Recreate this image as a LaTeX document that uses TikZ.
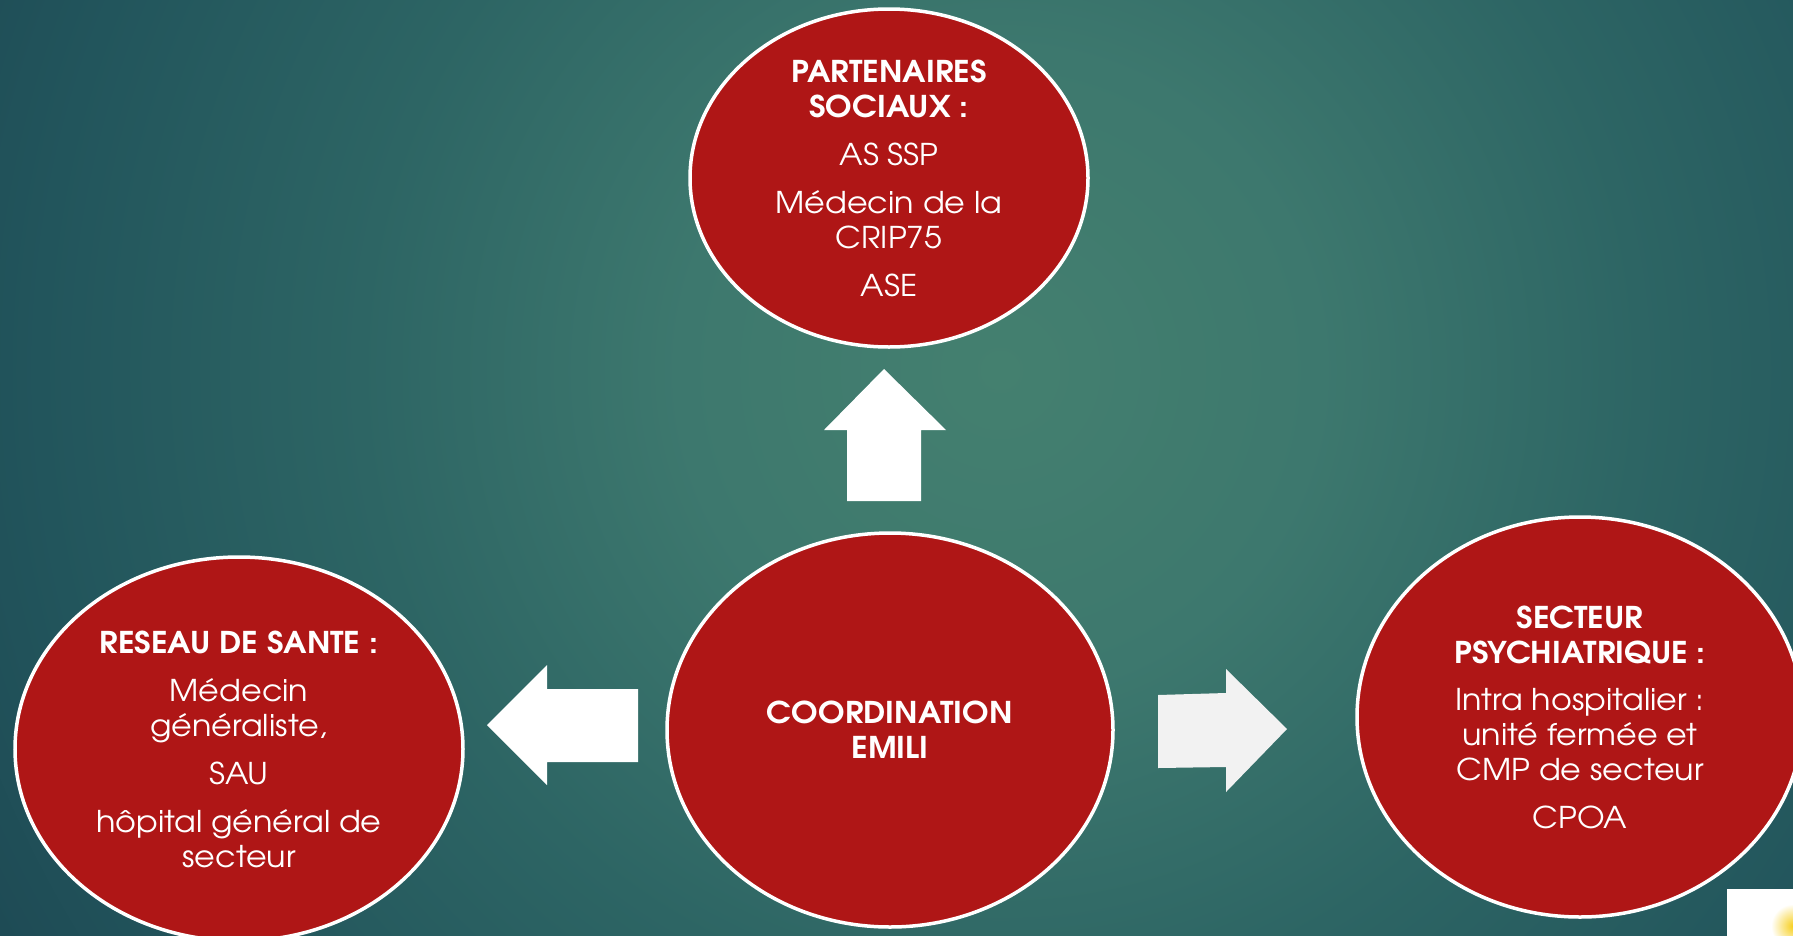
\documentclass[tikz,border=0pt]{standalone}
\usepackage{fontspec}
\setmainfont{TeX Gyre Adventor}[FakeStretch=1.06]
\usetikzlibrary{shapes.geometric}
\definecolor{bubblered}{HTML}{AF1616}
\definecolor{glowA}{HTML}{44806F}
\definecolor{glowB}{HTML}{3D786E}
\definecolor{glowC}{HTML}{2D6564}
\definecolor{glowD}{HTML}{22555C}
\definecolor{glowE}{HTML}{1D4853}
\definecolor{palearrow}{HTML}{F2F2F2}
\definecolor{sunyellow}{HTML}{F7CF1E}
% teal background glow, light in the upper middle, darker towards the edges
% (the path's half-width corresponds to 25bp of the shading)
\pgfdeclareradialshading{tealglow}{\pgfpoint{0bp}{0bp}}{%
  color(0bp)=(glowA); color(8bp)=(glowB); color(16bp)=(glowC);
  color(24bp)=(glowD); color(30bp)=(glowE); color(50bp)=(glowE)}
\begin{document}
\begin{tikzpicture}[x=1pt,y=-1pt,
  bubble/.style={ellipse, draw=white, line width=3.5pt, fill=bubblered, inner sep=0pt},
  bubbletext/.style={text=white, align=center, inner sep=0pt,
    font=\fontsize{30}{35}\selectfont},
  blockarrow/.style={fill=white},
]
\useasboundingbox (0,0) rectangle (1793,935);
\clip (0,0) rectangle (1793,935);

% background glow
\shade[shading=tealglow] (0,-630) rectangle (2000,1370);

% bubbles
\node[bubble, minimum width=398pt, minimum height=338pt] (part) at (889,178) {};
\node[bubble, minimum width=446pt, minimum height=394pt] (coord) at (890,730) {};
\node[bubble, minimum width=448pt, minimum height=384pt] (sante) at (239,749) {};
\node[bubble, minimum width=446pt, minimum height=400pt] (psy) at (1580,717) {};

% bubble texts
\node[bubbletext] (partT) at (part.center)
  {\textbf{PARTENAIRES}\\\textbf{SOCIAUX :}\\[13pt]AS SSP\\[13pt]Médecin de la\\CRIP75\\[13pt]ASE};
\node[bubbletext] (coordT) at (coord.center)
  {\textbf{COORDINATION}\\\textbf{EMILI}};
\node[bubbletext] (santeT) at (sante.center)
  {\textbf{RESEAU DE SANTE :}\\[13pt]Médecin\\généraliste,\\[13pt]SAU\\[13pt]hôpital général de\\secteur};
\node[bubbletext] (psyT) at (psy.center)
  {\textbf{SECTEUR}\\\textbf{PSYCHIATRIQUE :}\\[12pt]Intra hospitalier :\\unité fermée et\\CMP de secteur\\[13pt]CPOA};

% block arrows
\fill[blockarrow] (884,369) -- (946,430) -- (921,430) -- (921,501)
  -- (847,501) -- (847,430) -- (824,430) -- cycle;
\fill[blockarrow] (487,725) -- (547,665) -- (547,689) -- (638,689)
  -- (638,762) -- (547,762) -- (547,785) -- cycle;
\fill[palearrow] (1287,729) -- (1226,669) -- (1226,693) -- (1158,695)
  -- (1158,768) -- (1226,767) -- (1226,792) -- cycle;

% corner badge
\fill[white] (1727,889) rectangle (1800,940);
\shade[inner color=sunyellow, outer color=white] (1793,926) circle (22);
\end{tikzpicture}
\end{document}
